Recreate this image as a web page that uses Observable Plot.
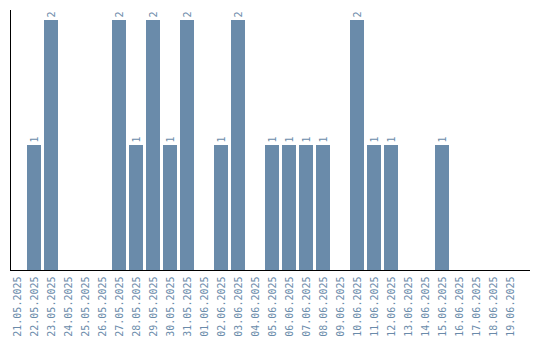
<!DOCTYPE html>
<html>
<head>
<meta charset="utf-8">
<script src="https://cdn.jsdelivr.net/npm/d3@7"></script>
<script src="https://cdn.jsdelivr.net/npm/@observablehq/plot@0.6"></script>
<style>
  html, body { margin: 0; padding: 0; background: #fff; }
  #chart svg { display: block; }
</style>
</head>
<body>
<div id="chart"></div>
<script>
const dates = [
  "21.05.2025","22.05.2025","23.05.2025","24.05.2025","25.05.2025","26.05.2025",
  "27.05.2025","28.05.2025","29.05.2025","30.05.2025","31.05.2025","01.06.2025",
  "02.06.2025","03.06.2025","04.06.2025","05.06.2025","06.06.2025","07.06.2025",
  "08.06.2025","09.06.2025","10.06.2025","11.06.2025","12.06.2025","13.06.2025",
  "14.06.2025","15.06.2025","16.06.2025","17.06.2025","18.06.2025","19.06.2025"
];
const counts = [0,1,2,0,0,0,2,1,2,1,2,0,1,2,0,1,1,1,1,0,2,1,1,0,0,1,0,0,0,0];

const data = dates.map((d, i) => ({date: d, count: counts[i]}));
const nonZero = data.filter(d => d.count > 0);

const color = "#6a8baa";
const font = "DejaVu Sans Mono";

const chart = Plot.plot({
  width: 540,
  height: 340,
  marginLeft: 10,
  marginRight: 10,
  marginTop: 10,
  marginBottom: 70,
  style: {fontFamily: font, fontSize: "10px", background: "#fff"},
  x: {domain: dates, range: [10, 517], paddingInner: 3/17, paddingOuter: 0, label: null},
  y: {domain: [0, 2.08], axis: null},
  marks: [
    Plot.barY(nonZero, {x: "date", y: "count", fill: color}),
    Plot.text(nonZero, {x: "date", y: "count", text: d => String(d.count), rotate: -90, textAnchor: "start", dy: -3, fill: color, fontSize: 10}),
    Plot.axisX({tickSize: 0, tickPadding: 6, tickRotate: -90, fill: color, fontSize: 10, label: null}),
    Plot.ruleY([0], {stroke: "#000", strokeWidth: 1}),
    Plot.frame({anchor: "left", stroke: "#000", strokeWidth: 1})
  ]
});
document.getElementById("chart").appendChild(chart);
</script>
</body>
</html>
